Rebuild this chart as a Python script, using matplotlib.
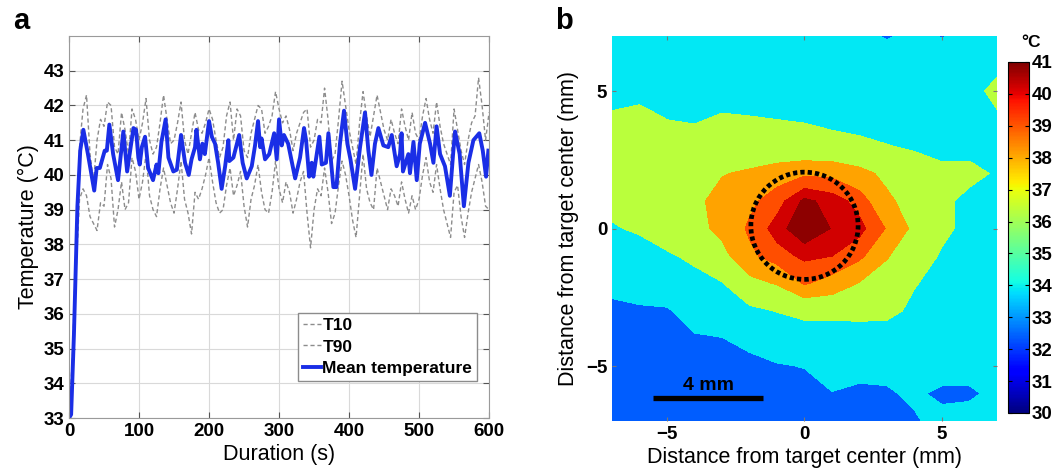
import numpy as np
import matplotlib
matplotlib.use("Agg")
import matplotlib.pyplot as plt
from matplotlib.patches import Circle

plt.rcParams['font.family'] = ['Liberation Sans', 'DejaVu Sans']
plt.rcParams['font.weight'] = 'bold'

# ---- panel a: temperature over time ----
t_mean = [0, 3, 7, 12, 16, 20.5, 27, 36, 39.5, 44, 51, 54, 57.6, 63, 70, 77.6, 83, 92, 95.7,
          99, 101, 104, 108.6, 113, 120, 125, 127.6, 132, 138, 142, 149, 154, 160, 165.7, 171,
          175, 180, 182, 187, 190.5, 194, 200, 204, 208.6, 213, 218, 223, 227.6, 229, 234.8, 243,
          248, 253.8, 261, 265.7, 270, 273, 275, 280, 286, 293, 296.7, 300, 303.8, 307, 313, 323,
          330, 335.7, 338.6, 343, 346.7, 349, 357.6, 361, 367, 370.5, 377.6, 382, 387, 392.8,
          397.6, 402, 408.6, 415.7, 422.8, 427.6, 432, 437, 441.9, 449, 456, 461, 468, 472.8, 475,
          477, 484.7, 487, 492, 496.7, 501, 508.6, 515.7, 520.5, 525, 530, 537, 544, 548.6, 551.4,
          558, 564, 570.5, 577.6, 586, 591, 595.7, 599]
mean_temp = [33.0, 33.1, 35.4, 39.1, 40.7, 41.3, 40.6, 39.55, 40.2, 40.2, 40.7, 40.7, 41.45, 40.6,
             39.85, 41.25, 40.1, 41.35, 41.3, 40.5, 40.3, 40.8, 41.1, 40.2, 39.85, 40.3, 40.05,
             40.95, 41.6, 40.5, 40.1, 40.15, 41.15, 40.35, 40.0, 40.45, 40.8, 41.3, 40.45, 40.9,
             40.6, 41.55, 41.1, 40.9, 40.35, 39.6, 40.25, 41.0, 40.4, 40.5, 41.15, 40.35, 39.9,
             40.25, 40.85, 41.55, 40.8, 41.05, 40.45, 40.6, 41.2, 40.45, 41.6, 40.85, 41.15, 40.9,
             39.9, 40.5, 41.35, 41.0, 39.95, 40.35, 39.95, 41.1, 40.3, 40.35, 41.2, 39.65, 39.65,
             40.9, 41.85, 40.9, 40.45, 39.6, 40.8, 41.8, 40.7, 40.0, 40.9, 41.35, 40.85, 40.8,
             41.15, 40.25, 40.6, 41.2, 40.1, 40.6, 40.05, 40.95, 39.85, 40.9, 41.5, 40.9, 40.35,
             41.4, 40.6, 40.25, 39.4, 40.6, 41.25, 40.6, 39.1, 40.35, 41.0, 41.2, 40.7, 39.95, 40.7]

t_pct = list(range(0, 601, 5))
t90 = [33.0, 34.8, 38.0, 40.8, 41.9, 42.3, 40.6, 39.8, 41.0, 41.6, 41.4, 42.1, 42.0, 40.8, 40.6,
       41.8, 41.3, 40.6, 41.9, 41.6, 41.0, 41.5, 42.2, 41.0, 40.6, 40.8, 41.5, 42.3, 41.6, 40.9,
       41.0, 41.5, 42.1, 41.0, 40.6, 41.2, 41.8, 41.3, 41.2, 41.5, 41.9, 41.6, 41.0, 40.5, 40.8,
       41.7, 42.1, 41.0, 41.9, 41.7, 40.7, 40.5, 41.2, 41.6, 42.0, 41.9, 41.2, 41.4, 41.7, 42.4,
       41.9, 41.5, 41.7, 41.3, 40.7, 41.2, 41.5, 41.8, 41.9, 40.8, 41.0, 41.6, 41.5, 42.5, 41.6,
       40.4, 40.6, 41.6, 42.7, 42.0, 41.3, 40.8, 40.3, 41.5, 42.4, 41.7, 41.1, 41.7, 42.3, 41.8,
       41.3, 41.0, 41.6, 41.2, 40.9, 41.9, 41.4, 41.0, 41.8, 41.2, 41.0, 41.7, 42.2, 41.6, 41.2,
       42.1, 41.4, 40.9, 40.6, 40.3, 41.9, 41.3, 40.7, 40.3, 41.0, 41.5, 41.7, 42.8, 42.0, 41.0,
       41.8]
t10 = [33.0, 34.2, 37.2, 39.3, 39.6, 39.4, 38.8, 38.6, 38.4, 39.2, 39.1, 40.3, 39.9, 38.5, 39.0,
       39.8, 39.0, 39.2, 40.5, 40.1, 39.3, 39.8, 40.6, 39.4, 39.0, 38.8, 39.6, 40.2, 39.7, 39.2,
       38.9, 39.6, 40.4, 39.3, 38.9, 38.3, 39.5, 39.3, 39.6, 40.0, 40.5, 39.8, 39.2, 38.9, 39.0,
       39.7, 40.2, 39.4, 39.7, 40.1, 39.1, 38.5, 39.3, 39.7, 40.3, 39.5, 39.0, 38.9, 39.5, 40.4,
       39.6, 39.2, 39.8, 39.5, 38.9, 39.3, 39.8, 40.1, 38.9, 37.9, 39.0, 39.6, 39.4, 40.2, 39.5,
       38.6, 38.9, 39.7, 40.4, 40.0, 39.4, 38.7, 38.2, 39.4, 40.6, 39.6, 39.2, 39.0, 40.2, 39.8,
       39.4, 39.0, 39.6, 39.4, 39.1, 39.8, 39.3, 38.9, 39.4, 39.0, 39.3, 40.0, 40.5, 39.8, 39.5,
       40.3, 39.6, 39.0, 38.6, 38.2, 39.5, 39.7, 38.8, 38.2, 38.9, 39.5, 39.9, 40.3, 39.8, 39.1,
       39.0]

# ---- panel b: temperature map (1 mm grid, rows from y=7 down to y=-7) ----
grid_x = np.arange(-7, 8)
grid_y = np.arange(7, -8, -1)
temp_map = np.array([
    [34.0, 34.0, 34.0, 34.0, 34.0, 34.0, 34.0, 34.0, 34.0, 33.8, 32.7, 33.8, 32.85, 34.0, 34.0],
    [34.2, 34.3, 34.2, 34.1, 34.2, 34.2, 34.1, 34.1, 34.0, 34.0, 34.8, 34.0, 34.6, 34.2, 34.6],
    [34.5, 34.7, 34.4, 34.3, 34.6, 34.5, 34.4, 34.3, 34.2, 34.1, 34.0, 33.9, 34.0, 34.5, 35.4],
    [35.2, 35.3, 34.98, 34.9, 35.1, 35.05, 34.98, 34.9, 34.7, 34.5, 34.3, 34.2, 34.1, 34.2, 34.8],
    [35.5, 35.6, 35.4, 35.4, 35.5, 35.5, 35.5, 35.5, 35.4, 35.3, 35.05, 34.8, 34.6, 34.4, 34.2],
    [35.6, 35.8, 36.0, 36.3, 36.9, 37.3, 37.9, 38.3, 38.2, 37.5, 36.6, 35.8, 35.3, 35.5, 34.8],
    [35.3, 35.6, 36.0, 36.6, 37.6, 38.2, 39.1, 40.5, 40.0, 39.1, 37.3, 36.3, 35.4, 34.5, 34.0],
    [34.9, 35.15, 35.8, 36.5, 37.4, 38.7, 39.9, 41.0, 40.25, 39.8, 38.4, 36.6, 35.4, 34.5, 34.0],
    [34.2, 34.5, 34.8, 35.3, 36.5, 38.2, 39.1, 39.7, 39.5, 38.8, 37.1, 36.0, 34.8, 34.2, 34.0],
    [33.6, 34.0, 34.2, 34.5, 34.9, 36.5, 37.1, 38.6, 38.0, 36.9, 36.3, 35.1, 34.4, 34.1, 34.0],
    [32.5, 32.7, 32.8, 33.8, 34.1, 34.6, 35.05, 35.5, 35.5, 35.6, 35.5, 34.6, 34.2, 34.0, 34.0],
    [32.0, 32.2, 32.4, 32.8, 32.95, 33.5, 33.8, 34.0, 34.0, 34.0, 34.0, 34.1, 34.1, 34.0, 34.0],
    [32.0, 32.0, 32.1, 32.2, 32.3, 32.5, 32.9, 33.05, 33.6, 33.5, 33.5, 33.8, 34.0, 34.0, 34.0],
    [32.0, 32.0, 32.0, 32.0, 32.0, 32.0, 32.0, 32.5, 32.95, 32.7, 32.8, 33.3, 32.6, 32.6, 33.6],
    [32.0, 32.0, 32.0, 32.0, 32.0, 32.0, 32.0, 32.0, 32.0, 32.0, 32.5, 32.8, 33.6, 34.0, 34.0],
])
band_edges = [29, 33, 35, 37, 38.5, 39.5, 40.3, 42]
band_shades = [32.4, 33.9, 36.35, 38.1, 39.1, 40.2, 40.85]  # position on the jet scale
cbar_ticks = list(range(30, 42))
target_radius = 1.95
scale_len = 4

fig = plt.figure(figsize=(10.57, 4.76), dpi=100)

# panel a
ax = fig.add_axes([0.0653, 0.1218, 0.3974, 0.8025])
ax.plot(t_pct, t10, color='#8c8c8c', lw=1.0, dashes=(3, 2), label='T10')
ax.plot(t_pct, t90, color='#8c8c8c', lw=1.0, dashes=(3, 2), label='T90')
ax.plot(t_mean, mean_temp, color='#1a2ee6', lw=2.8, label='Mean temperature')
ax.set_xlim(0, 600)
ax.set_ylim(33, 44)
ax.set_xticks(range(0, 601, 100))
ax.set_yticks(range(33, 44))
ax.grid(True, color='#d9d9d9', lw=0.8)
ax.set_axisbelow(True)
ax.tick_params(direction='in', top=True, right=True, labelsize=13.5, length=4, color='#555555')
for s in ax.spines.values():
    s.set_color('#9a9a9a')
ax.set_xlabel('Duration (s)', fontsize=15.5, fontweight='normal', labelpad=3)
ax.set_ylabel('Temperature (°C)', fontsize=15.5, fontweight='normal', labelpad=3)
leg = ax.legend(loc='upper left', bbox_to_anchor=(0.545, 0.275), fontsize=12.5,
                handlelength=1.0, handletextpad=0.1, borderpad=0.3, labelspacing=0.35,
                fancybox=False, framealpha=1, edgecolor='#8c8c8c', borderaxespad=0)
leg.get_frame().set_linewidth(1.0)
fig.text(0.012, 0.955, 'a', fontsize=21, fontweight='bold', va='center')

# panel b
bx = fig.add_axes([0.579, 0.1155, 0.3642, 0.8088])
jet = plt.get_cmap('jet')
shade_colors = [jet((v - 30) / 11) for v in band_shades]
bx.contourf(grid_x, grid_y, temp_map, levels=band_edges, colors=shade_colors)
bx.add_patch(Circle((0, 0.1), target_radius, fill=False, ec='black', lw=3.4,
                    ls=(0, (0.9, 0.65))))
bx.plot([-5.5, -5.5 + scale_len], [-6.17, -6.17], color='black', lw=3.8, solid_capstyle='butt')
bx.text(-5.5 + scale_len / 2, -5.7, '4 mm', ha='center', va='center', fontsize=14)
bx.set_xlim(-7, 7)
bx.set_ylim(-7, 7)
bx.set_xticks([-5, 0, 5])
bx.set_yticks([-5, 0, 5])
bx.tick_params(direction='in', top=True, right=True, labelsize=13.5, length=3, color='#777777')
for s in bx.spines.values():
    s.set_visible(False)
bx.set_xlabel('Distance from target center (mm)', fontsize=15.5, fontweight='normal', labelpad=3)
bx.set_ylabel('Distance from target center (mm)', fontsize=15.5, fontweight='normal', labelpad=5)
fig.text(0.525, 0.955, 'b', fontsize=21, fontweight='bold', va='center')

# colour bar
cax = fig.add_axes([0.9536, 0.1324, 0.0199, 0.7374])
sm = plt.cm.ScalarMappable(norm=plt.Normalize(30, 41), cmap=jet)
cb = fig.colorbar(sm, cax=cax, ticks=cbar_ticks)
cb.outline.set_linewidth(0.8)
cax.tick_params(labelsize=13.5, direction='in', length=3, left=True, right=True, pad=2)
fig.text(0.975, 0.91, '°C', fontsize=12.5, fontweight='bold', ha='center', va='center')

fig.savefig('out.png', dpi=100)
